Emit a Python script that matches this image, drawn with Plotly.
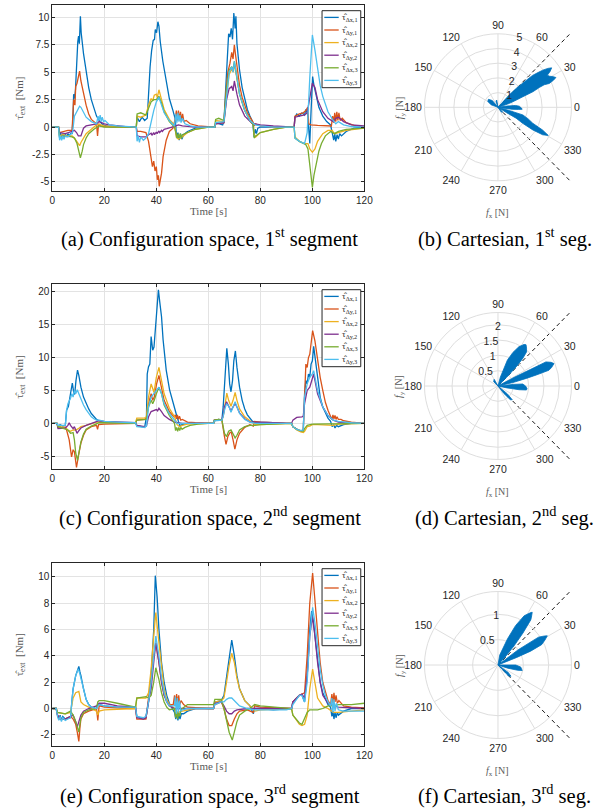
import math
import plotly.graph_objects as go

W, H = 605, 812

SERIES_COLORS = ['#0072BD', '#D95319', '#EDB120', '#7E2F8E', '#77AC30', '#4DBEEE']
SERIES_SUBS = ['x,1', 'y,1', 'x,2', 'y,2', 'x,3', 'y,3']

# ---------------- (a) configuration space, 1st segment: (time [s], torque [Nm]) ----------------
A_X1 = [(0,0),(2.4,0),(2.8,-1.0),(3.2,-0.5),(3.6,-1.1),(4,-0.6),(4.5,-1.0),(5,-0.6),(5.5,-0.9),(6,-0.6),(6.5,-0.8),(7,-0.6),(7.6,-0.6),(8.0,1.0),(8.2,3.0),(8.6,2.6),(8.9,3.4),(9.3,6.0),(9.5,5.6),(9.8,7.8),(10.1,8.3),(10.4,7.6),(10.8,10.1),(11.1,8.6),(12,6.7),(13,5.0),(14,3.6),(15,2.5),(16,1.7),(17,1.0),(18,0.6),(19,0.3),(20,0.15),(22,0.05),(25,0),(32.3,0),(32.6,0.9),(33.5,0.5),(34.5,0.9),(35.5,0.6),(36.5,0.8),(37.1,3.7),(37.6,5.5),(38.2,7.0),(38.8,7.9),(39.3,8.0),(39.6,8.9),(40.1,8.6),(40.6,9.6),(41.0,9.2),(41.5,7.8),(42.5,6.0),(43.8,4.0),(45,2.6),(46.4,1.5),(47.3,0.7),(47.8,-1.0),(48.3,-0.5),(48.8,-1.2),(49.3,-0.6),(49.8,-1.1),(50.5,-0.7),(52,-0.4),(55,-0.1),(58,0),(62.5,0),(62.8,0.4),(64,0.3),(65.5,0.2),(66,0.5),(66.5,2.5),(67.3,6.0),(67.8,8.5),(68.3,8.2),(68.8,9.0),(69.3,8.0),(69.8,10.4),(70.3,9.0),(70.6,10.1),(71,7.6),(72,5.2),(73,3.6),(74,2.5),(75,1.6),(76,1.0),(77,0.5),(77.6,-0.9),(78,-0.2),(78.5,-0.6),(79,-0.1),(80,0),(93,0),(93.3,0.9),(94,1.2),(95,1.0),(96,1.3),(97,1.1),(97.5,1.6),(98.2,1.2),(98.6,-0.6),(99,-1.5),(99.5,1.5),(100.1,4.6),(100.6,3.8),(101.5,2.8),(102.5,1.8),(104,1.0),(105.5,0.5),(107,0.2),(107.6,-0.6),(108.2,-1.2),(108.6,-0.6),(109,-1.3),(109.5,-0.7),(110,-1.1),(110.5,-0.6),(111.2,-0.8),(113,-0.4),(116,-0.1),(120,0)]
A_Y1 = [(0,0),(2.4,0),(2.8,-0.5),(4,-0.4),(6,-0.3),(7.6,-0.3),(8.2,2.5),(8.7,2.0),(9.0,3.7),(9.5,4.0),(9.9,4.6),(10.5,5.1),(11,4.2),(12,3.0),(13,2.0),(14,1.2),(15,0.7),(17,0.3),(17.4,-0.8),(17.8,0.3),(18.5,0.1),(20,0.05),(25,0),(32.3,0),(32.6,-0.4),(34,-0.4),(36,-0.5),(37,-1.3),(37.8,-2.7),(38.5,-3.6),(39,-3.1),(39.5,-4.0),(40,-3.6),(40.4,-4.8),(40.8,-4.4),(41.1,-5.4),(42,-4.2),(42.6,-2.7),(43.8,-1.2),(45,-0.4),(46.4,-0.1),(47.3,0.8),(47.7,1.5),(48.1,0.6),(48.5,1.5),(48.9,0.6),(49.3,1.4),(49.7,0.5),(50.1,1.2),(50.6,0.5),(51.5,0.6),(53,0.3),(56,0.1),(60,0),(62.5,0),(62.8,0.3),(66,0.4),(66.7,3.0),(67.5,5.0),(68.3,5.8),(69,6.8),(69.5,6.2),(70,7.5),(70.5,6.5),(71.2,5.0),(72,3.8),(73,2.7),(74,1.9),(75,1.3),(76,0.9),(77.3,0.4),(77.6,0.1),(78,0.3),(80,0.1),(85,0),(93,0),(93.3,1.0),(95,1.2),(96.5,1.3),(97.5,1.5),(98.2,1.8),(98.6,0.3),(99.5,0.2),(102,0.15),(105,0.1),(107.3,0.1),(107.8,1.0),(108.2,0.4),(108.6,1.3),(109,0.5),(109.4,1.4),(109.8,0.6),(110.2,1.3),(110.7,0.6),(111.5,0.8),(113,0.4),(116,0.15),(120,0)]
A_X2 = [(0,0),(2.4,0),(2.8,-0.8),(4,-0.7),(6,-0.8),(7.6,-0.8),(8.5,-1.0),(9.5,-1.4),(10.5,-1.7),(11,-1.4),(12,-1.0),(13,-0.6),(15,-0.2),(17,0.2),(18,0.25),(20,0.1),(25,0),(32.3,0),(32.6,1.0),(34,0.9),(36,1.1),(37,2.0),(38,2.6),(38.6,2.4),(39.2,2.9),(40,3.0),(40.4,2.7),(41,3.4),(42,2.5),(43,1.6),(45,0.7),(47,0.2),(47.7,-0.9),(48.5,-1.1),(49.5,-1.0),(50.5,-0.8),(52,-0.5),(55,-0.2),(60,0),(62.5,0),(62.8,0.6),(66,0.5),(67,3.0),(68,4.8),(69,5.3),(69.6,5.0),(70,5.8),(71,4.5),(72,3.0),(74,1.5),(76,0.6),(77.3,0.2),(77.6,-0.7),(78.2,-0.9),(80,-0.5),(85,-0.2),(90,0),(93,0),(93.3,-0.9),(95,-1.3),(97,-1.5),(98.3,-1.5),(99,-2.0),(100,-2.3),(101,-2.0),(102,-1.3),(104,-0.6),(106,-0.3),(107.6,-0.3),(108.5,-0.6),(110,-0.5),(113,-0.3),(120,-0.1)]
A_Y2 = [(0,0),(2.4,0),(2.8,-0.5),(5,-0.6),(7.6,-0.4),(8.5,-0.3),(9.3,-0.5),(10,-0.8),(11,-0.8),(11.5,-0.5),(12,-0.1),(13,0.1),(15,0.2),(17,0.3),(18,0.5),(19,0.4),(20,0.3),(22,0.2),(25,0.1),(30,0),(32.3,0),(32.6,-0.8),(34,-0.9),(36,-0.9),(37,-0.7),(38,-0.55),(38.3,-0.75),(39,-0.5),(39.3,-0.7),(40,-0.45),(40.3,-0.6),(41,-0.35),(41.3,-0.5),(42,-0.3),(42.3,-0.4),(43,-0.2),(44,-0.15),(45,-0.1),(46,0),(47.5,0.1),(48.5,0.2),(50,0.1),(55,0),(62.5,0),(62.8,0.3),(66,0.4),(67,2.5),(68,3.5),(69,3.7),(69.5,3.3),(70,4.2),(71,3.0),(72,2.0),(74,1.0),(76,0.5),(77,0.3),(78,0.3),(80,0.2),(85,0.1),(90,0),(93,0),(93.3,0.9),(95,1.0),(97,1.1),(98,1.3),(99,2.5),(100,4.0),(101,3.6),(102,2.5),(104,1.4),(106,0.8),(108,0.5),(109,0.8),(110,0.9),(112,0.5),(115,0.2),(120,0.1)]
A_X3 = [(0,0),(2.4,0),(2.8,-0.9),(5,-0.8),(7.6,-0.9),(8.5,-1.0),(9.5,-1.5),(10,-2.0),(10.8,-2.8),(11.5,-2.2),(12,-1.6),(13,-1.0),(14,-0.6),(16,-0.2),(18,0.1),(20,0),(32.3,0),(32.6,1.2),(34,1.3),(36,1.1),(37,1.8),(38,2.3),(39,2.5),(40,2.5),(41,2.8),(42,2.2),(43,1.4),(45,0.5),(47,0),(47.6,-0.7),(48.0,-1.0),(48.4,-0.6),(48.8,-1.0),(49.2,-0.6),(49.6,-1.0),(50,-0.7),(52,-0.5),(55,-0.2),(60,0),(62.5,0),(62.8,0.7),(64,0.8),(66,0.6),(67,3.5),(68,5.2),(69,5.5),(69.5,5.1),(70,6.0),(71,4.5),(72,3.0),(74,1.5),(76,0.6),(77.3,0.2),(77.6,-1.0),(78.2,-0.8),(80,-0.5),(85,-0.2),(90,0),(93,0),(93.3,-1.0),(95,-1.3),(96.5,-1.5),(97.5,-1.6),(98.3,-2.0),(99,-3.5),(100,-5.5),(100.6,-4.4),(101.5,-3.3),(102.5,-2.2),(103.5,-1.5),(105,-0.8),(107,-0.4),(108.5,-0.6),(110,-0.4),(113,-0.2),(120,-0.1)]
A_Y3 = [(0,0),(2.4,0),(2.8,-1.2),(3.2,-0.8),(3.6,-1.2),(4,-0.8),(4.5,-1.1),(5,-0.8),(6,-0.9),(7,-0.7),(7.8,-0.5),(8.5,1.0),(9.5,1.5),(10.5,1.9),(11,1.8),(12,1.3),(13,0.9),(15,0.5),(17,0.3),(17.6,1.0),(18,0.6),(18.4,1.1),(18.8,0.5),(19.2,0.9),(19.7,0.5),(20.3,0.6),(22,0.2),(25,0.1),(30,0),(32.3,0),(32.6,-1.3),(33,-0.8),(33.5,-1.4),(34,-0.9),(35,-1.2),(36,-1.0),(37,-0.6),(38,0.5),(39,1.5),(40,2.3),(41,2.7),(42,2.0),(43,1.3),(45,0.6),(47,0.1),(47.5,1.2),(47.9,0.4),(48.3,1.3),(48.7,0.5),(49.1,1.1),(49.5,0.4),(50,0.8),(51,0.3),(53,0.1),(56,0),(62.5,0),(62.8,0.4),(66,0.5),(67,3.0),(68,5.0),(69,5.5),(69.5,5.0),(70,6.0),(71,4.5),(72,3.0),(74,1.5),(76,0.6),(78,0.2),(80,0.1),(85,0),(93,0),(93.3,-1.0),(95,-1.3),(97,-1.5),(98,-0.5),(99,4.5),(100,8.4),(101,7.0),(102,5.2),(103,3.8),(104,2.8),(106,1.4),(108,0.6),(109,0.3),(110,0.5),(112,0.2),(115,0.05),(120,0)]

# ---------------- (c) configuration space, 2nd segment ----------------
C_X1 = [(0,0),(1.8,0),(2.2,-0.4),(3,-0.2),(4,-0.4),(5,-0.3),(5.5,2.0),(6.2,2.6),(7,4.5),(7.7,6.1),(8.2,4.8),(8.6,4.4),(9.1,6.5),(9.7,8.1),(10.2,7.3),(11,5.5),(12,4.0),(13,3.0),(14,2.2),(15,1.5),(16,1.0),(17,0.6),(18,0.4),(20,0.2),(25,0.1),(32,0.1),(32.5,-0.3),(34,-0.5),(35.5,-0.6),(36.2,1.0),(36.5,7.5),(37,8.6),(37.5,9.0),(38,13.2),(38.6,11.1),(39.1,11.6),(40.1,17.2),(40.8,20.3),(41.3,18.5),(42,16.2),(42.6,12.7),(43.8,8.1),(45.1,5.1),(46.4,3.0),(47.6,1.5),(48.5,0.3),(49,-0.3),(50,-0.2),(52,0),(62,0),(62.3,0.4),(64,0.6),(65.2,0.5),(65.7,2.5),(66.2,6.0),(66.6,9.5),(67.1,11.4),(67.7,9.0),(68.2,6.0),(68.7,4.8),(69.3,6.5),(69.8,9.5),(70.4,11.0),(71,8.5),(72,5.5),(73,3.5),(74,2.2),(75,1.3),(76,0.7),(77,0.3),(78,0.2),(80,0.2),(85,0.1),(90,0),(92,0),(92.5,-0.5),(94,-0.9),(95.5,-1.2),(96.5,-1.0),(97,4.5),(97.5,6.5),(98,6.0),(98.5,7.5),(99,7.0),(99.5,9.0),(100,9.5),(100.5,11.7),(101,10.0),(102,6.5),(103,4.0),(104,2.5),(105,1.5),(106,0.8),(107,0.3),(107.6,-0.5),(108.2,-0.2),(108.7,-0.7),(109.3,-0.3),(110,-0.5),(112,-0.2),(115,0),(120,0)]
C_Y1 = [(0,0),(1.8,0),(2.2,-0.6),(3,-0.5),(4,-0.7),(5,-0.6),(5.5,-1.0),(6.5,-2.5),(7.4,-5.1),(8,-4.0),(8.5,-4.3),(9.3,-6.7),(10,-5.0),(11,-3.0),(12,-1.8),(13,-1.0),(15,-0.5),(17,-0.3),(17.4,-0.9),(17.8,-0.2),(20,-0.1),(30,0),(32,0),(32.5,0.5),(35.5,0.6),(36.2,0.8),(37,3.0),(38,4.5),(38.6,3.5),(39.2,4.0),(40.1,6.0),(41,7.3),(42,5.5),(43,3.5),(45,1.8),(46.8,1.0),(47.3,1.3),(47.7,0.7),(48.1,1.3),(48.5,0.6),(48.9,1.1),(49.4,0.5),(50,0.6),(52,0.2),(55,0.1),(60,0),(62,0),(62.3,0.4),(64,0.6),(65.2,0.5),(65.7,-1.0),(66.2,-2.0),(66.8,-3.2),(67.5,-2.0),(68.3,-1.4),(68.8,-1.3),(69.5,-2.5),(70.2,-3.9),(71,-2.5),(72,-1.5),(74,-0.6),(76,-0.2),(77.3,-0.4),(77.7,0.3),(80,0.2),(85,0.1),(90,0),(92,0),(92.5,-0.5),(94,-0.9),(95.5,-1.2),(96.5,-1.0),(97,6.0),(97.5,9.0),(98,8.5),(98.5,10.0),(99,10.5),(99.5,12.0),(100.1,14.1),(101,12.5),(102,9.5),(103,7.0),(104,5.0),(105,3.2),(106,2.0),(107,1.2),(107.5,0.6),(107.9,1.3),(108.3,0.7),(108.7,1.2),(109.1,0.6),(109.5,1.0),(110,0.6),(111,0.6),(112,0.4),(115,0.2),(120,0)]
C_X2 = [(0,0),(1.8,0),(2.2,-0.5),(5,-0.6),(6,-1.0),(7,-1.2),(8,-1.0),(9,-1.0),(10,-0.8),(11,-0.5),(13,-0.3),(15,0),(17,0.2),(20,0.2),(25,0.1),(32,0.1),(32.5,0.8),(35.5,0.8),(36.2,1.0),(37,4.0),(38,6.0),(38.6,5.3),(39.1,4.7),(40,7.0),(41,8.5),(42,6.5),(43,4.5),(45,2.3),(47,1.0),(48,-0.2),(49,-0.5),(50,-0.3),(52,-0.1),(60,0),(62,0),(62.3,0.5),(64,0.6),(65.2,0.6),(65.7,1.0),(66.2,2.5),(67.1,4.6),(67.8,3.5),(68.7,2.6),(69.5,3.5),(70.3,4.7),(71,3.5),(72,2.2),(74,1.0),(76,0.4),(77,0),(78,-0.2),(80,-0.2),(85,-0.1),(90,0),(92,0),(92.5,-0.5),(94,-1.0),(95.5,-1.3),(96.5,-1.4),(97,-1.2),(98,-0.5),(99,-0.4),(100,-0.2),(102,-0.2),(105,-0.3),(107,-0.3),(108,-0.3),(110,-0.1),(115,0),(120,0)]
C_Y2 = [(0,0),(1.8,0),(2.2,-0.8),(4,-0.8),(5,-0.7),(6,-0.3),(6.5,0.1),(7,-0.3),(8,-0.8),(8.5,-0.5),(9,-1.0),(9.5,-1.5),(10,-1.2),(11,-0.7),(13,-0.3),(15,0),(17,0.3),(18,0.4),(20,0.3),(25,0.2),(32,0.1),(32.5,-0.3),(35.5,-0.5),(36.2,-0.4),(37,1.0),(38,1.8),(39,2.0),(40,2.1),(40.5,1.9),(41,2.3),(42,1.8),(43,1.2),(45,0.6),(47,0.2),(50,0),(62,0),(62.3,0.5),(64,0.6),(65.2,0.6),(65.7,1.2),(66.2,2.5),(67,3.3),(68,2.5),(68.7,1.9),(69.5,2.5),(70.3,3.0),(71,2.5),(72,1.6),(74,0.7),(76,0.2),(78,0.2),(80,0.2),(85,0.1),(90,0),(92,0),(92.5,0.5),(94,0.9),(96,1.0),(96.5,1.1),(97,3.0),(98,5.0),(99,5.5),(100,7.0),(100.5,7.5),(101,6.5),(102,4.5),(104,2.5),(106,1.2),(108,0.5),(110,0.2),(115,0),(120,0)]
C_X3 = [(0,0),(1.8,0),(2.2,-0.5),(5,-0.8),(6,-1.0),(7,-1.5),(8,-1.4),(8.5,-2.5),(9,-4.5),(9.7,-5.6),(10.3,-4.5),(11,-2.8),(12,-1.6),(13,-0.9),(15,-0.4),(17,-0.1),(18,0.1),(20,0.1),(30,0),(32,0),(32.5,0.5),(35.5,0.5),(36.2,0.6),(37,2.5),(38,3.5),(38.6,3.0),(39.2,3.5),(40,4.5),(41,5.5),(42,4.5),(43,2.8),(45,1.2),(47,0),(47.4,-1.1),(47.8,-0.6),(48.2,-1.2),(48.6,-0.6),(49,-1.1),(49.4,-0.6),(49.9,-0.9),(51,-0.6),(53,-0.3),(56,-0.1),(60,0),(62,0),(62.3,0.5),(64,0.6),(65.2,0.5),(65.7,-0.5),(66.2,-1.5),(67,-2.0),(67.8,-1.2),(68.7,-1.0),(69.5,-1.5),(70.3,-2.2),(71,-1.8),(72,-1.0),(74,-0.5),(76,-0.3),(78,-0.3),(80,-0.2),(85,-0.1),(90,0),(92,0),(92.5,-0.5),(94,-0.9),(95.5,-1.1),(96.5,-1.2),(97,-0.8),(98,-0.3),(100,-0.1),(105,-0.1),(110,0),(120,0)]
C_Y3 = [(0,0),(1.8,0),(2.2,-0.3),(5,-0.3),(5.5,2.0),(6,3.0),(7,3.8),(7.5,4.5),(8,4.0),(8.5,5.0),(9,4.5),(9.6,5.1),(10.2,4.5),(11,3.6),(12,2.8),(13,2.1),(14,1.5),(15,1.0),(16,0.7),(17,0.5),(18,0.5),(20,0.3),(25,0.2),(32,0.1),(32.5,-0.5),(35.5,-0.6),(36.2,-0.4),(37,2.5),(38,4.0),(39,4.5),(40,5.0),(41,5.5),(42,4.5),(43,3.0),(45,1.5),(47,0.4),(48,0),(50,0),(62,0),(62.3,0.4),(64,0.5),(65.2,0.5),(65.7,1.0),(66.2,2.0),(67,3.0),(68,2.5),(68.7,1.7),(69.5,2.5),(70.3,3.3),(71,2.5),(72,1.5),(74,0.6),(76,0.2),(78,0),(92,0),(92.5,-0.5),(94,-0.9),(95.5,-1.1),(96.5,-1.0),(97,4.0),(98,6.0),(99,7.0),(100,7.5),(100.5,8.0),(101,7.0),(102,5.0),(104,2.5),(106,1.2),(108,0.5),(110,0.3),(115,0.1),(120,0)]

# ---------------- (e) configuration space, 3rd segment ----------------
E_X1 = [(0,0),(1.5,0),(2,-0.5),(2.5,-0.8),(3,-0.5),(3.5,-0.9),(4,-0.6),(5,-0.8),(6,-0.7),(7,-0.7),(7.5,0.5),(8,1.5),(9,2.5),(9.6,2.8),(10.2,3.2),(10.6,2.8),(11,2.5),(12,1.5),(13,0.7),(14,0.3),(15,0.1),(17,0),(17.4,0.3),(18,0.3),(20,0.2),(25,0.1),(32,0.1),(32.5,-0.6),(35,-0.8),(36,-0.7),(37,0.5),(38,2.5),(39,6.0),(39.6,10.1),(40.3,8.5),(41,6.0),(42,3.5),(43,2.0),(44,1.0),(45,0.4),(46,0.1),(47,-0.3),(47.5,-0.8),(47.9,-0.3),(48.3,-0.9),(48.7,-0.4),(49.1,-0.8),(49.6,-0.4),(50.5,-0.4),(52,-0.2),(55,0),(62,0),(62.5,0.5),(65,0.6),(66,1.0),(67,2.5),(68,4.0),(69,5.2),(70,4.0),(71,2.5),(72,1.5),(74,0.6),(76,0.2),(77.3,-0.4),(77.8,0),(80,0),(85,-0.1),(90,0),(92,0),(92.5,0.5),(95,1.0),(96,1.0),(97,0.5),(98,2.5),(99,6.0),(99.7,7.4),(100.5,6.5),(101,5.5),(102,3.5),(103,2.0),(104,1.2),(105,0.7),(106,0.3),(107,0.1),(107.5,-0.6),(107.9,-0.2),(108.3,-0.8),(108.7,-0.3),(109.1,-0.7),(109.6,-0.3),(110,-0.5),(112,-0.2),(115,0),(120,0)]
E_Y1 = [(0,0),(1.5,0),(2,-0.5),(3,-0.8),(5,-0.8),(7,-0.6),(8,-0.8),(9,-1.2),(9.6,-1.8),(10.2,-2.5),(10.6,-1.5),(11,-0.8),(12,-0.4),(14,-0.2),(17,0),(17.5,-0.9),(18,0.2),(20,0.1),(30,0),(32,0),(32.5,-0.8),(36,-0.8),(37,0.8),(38,2.0),(39,4.0),(39.8,5.0),(41,3.5),(42,2.0),(43,1.0),(45,0.3),(46.5,0.3),(47,1.0),(47.4,0.3),(47.8,1.1),(48.2,0.3),(48.6,1.0),(49,0.3),(49.5,0.6),(50.5,0.3),(52,0.1),(60,0),(62,0),(62.5,0.3),(65,0.5),(66,0),(67,-0.8),(68,-1.3),(69,-1.3),(70,-0.8),(71,-0.4),(72,-0.2),(75,-0.1),(77.3,-0.3),(77.8,0.2),(80,0.1),(90,0),(92,0),(92.5,0.5),(95,1.0),(96,1.1),(97,1.2),(98,4.0),(99,8.0),(100.1,10.3),(101,8.0),(102,5.5),(103,3.5),(104,2.0),(105,1.2),(106,0.6),(107,0.3),(107.5,1.1),(107.9,0.4),(108.3,1.2),(108.7,0.5),(109.1,1.0),(109.6,0.4),(110.2,0.6),(112,0.2),(115,0.1),(120,0.05)]
E_X2 = [(0,0),(1.5,0),(2,-0.3),(5,-0.4),(7,-0.3),(7.5,0.2),(8,0.8),(9,1.2),(10.2,1.3),(11,0.5),(12,0.3),(14,0.1),(17,-0.2),(17.5,-0.5),(18,-0.2),(20,-0.1),(30,0),(32,0),(32.5,0.8),(36,0.8),(37,1.2),(38,3.0),(39,5.5),(39.8,7.3),(41,5.0),(42,3.0),(43,1.5),(44,0.7),(45,0.3),(47,0),(48,-0.3),(50,-0.2),(55,0),(62,0),(62.5,0.5),(65,0.6),(66,0.8),(67,2.0),(68,3.3),(69,4.2),(70,3.5),(71,2.3),(72,1.5),(74,0.6),(76,0.2),(78,-0.2),(80,-0.1),(90,0),(92,0),(92.5,-0.5),(95,-1.2),(96,-1.3),(97,-1.2),(98,-0.5),(99,1.5),(100.1,3.0),(101,2.0),(102,0.8),(104,0.2),(106,0),(108,-0.3),(110,-0.3),(115,-0.2),(120,-0.1)]
E_Y2 = [(0,0),(1.5,0),(2,-0.5),(3,-0.8),(5,-0.8),(7,-0.6),(8,-0.5),(9,-1.0),(9.6,-1.4),(10.2,-1.0),(11,-0.5),(12,-0.2),(14,0),(17,0.2),(18,0.4),(20,0.4),(25,0.2),(32,0.1),(32.5,-0.7),(35,-0.8),(36,-0.7),(37,0.5),(38,1.5),(39,3.5),(39.8,5.0),(41,3.5),(42,2.0),(43,1.0),(44,0.5),(45,0.2),(47,0),(50,0),(62,0),(62.5,0.4),(65,0.5),(66,0.2),(67,-0.2),(68,-0.4),(69,-0.4),(70,-0.2),(71,-0.1),(75,0),(92,0),(92.5,0.5),(95,1.0),(96,1.1),(97,0.8),(98,2.5),(99,5.5),(100,7.0),(101,5.5),(102,3.5),(103,2.0),(104,1.0),(106,0.4),(108,0.2),(110,0.1),(120,0)]
E_X3 = [(0,0),(1.5,0),(2,-0.3),(5,-0.4),(7,-0.2),(8,-0.5),(9,-1.0),(10.2,-1.8),(10.6,-1.2),(11,-0.7),(12,-0.3),(14,-0.1),(17,0),(17.5,0.5),(18,0.6),(20,0.6),(25,0.4),(30,0.2),(32,0.1),(32.5,0.8),(36,0.9),(37,0.8),(38,1.0),(39,2.0),(39.8,3.1),(41,2.2),(42,1.2),(43,0.5),(44,0.1),(45,-0.1),(47,0),(47.4,-0.7),(47.8,-0.2),(48.2,-0.8),(48.6,-0.3),(49,-0.6),(49.5,-0.1),(50,0),(52,0.3),(55,0.3),(60,0.3),(62,0.3),(62.5,0.7),(65,0.7),(66,0),(67,-0.8),(68,-1.8),(69.2,-2.4),(70,-1.8),(71,-1.0),(72,-0.5),(74,-0.2),(76,0),(77.8,0.3),(80,0.2),(85,0.1),(90,0.05),(92,0),(92.5,-0.5),(95,-1.1),(96,-1.2),(97,-0.8),(98,-0.3),(99,-0.1),(102,-0.1),(104,0),(106,0.2),(108,0.2),(110,0.3),(115,0.3),(120,0.4)]
E_Y3 = [(0,0),(1.5,0),(2,-0.6),(2.5,-0.9),(3,-0.6),(3.5,-1.0),(4,-0.7),(5,-0.9),(6,-0.8),(7,-0.7),(7.5,0.5),(8,1.5),(9,2.5),(10,3.0),(10.5,2.7),(11,2.3),(12,1.4),(13,0.7),(14,0.3),(15,0.1),(17,0),(17.5,0.2),(18,0.3),(20,0.2),(25,0.1),(30,0.1),(32,0.1),(32.5,-0.6),(35,-0.7),(36,-0.6),(37,0.5),(38,2.0),(39,4.0),(39.8,5.5),(41,4.0),(42,2.3),(43,1.2),(44,0.5),(45,0.2),(47,0.2),(47.3,0.9),(47.7,-0.4),(48.1,0.8),(48.5,-0.3),(48.9,0.6),(49.4,-0.2),(50,-0.1),(52,0),(62,0),(62.5,0.3),(65,0.5),(66,0.5),(67,0.7),(68,0.8),(69,0.8),(70,0.6),(71,0.4),(72,0.2),(75,0),(78,-0.1),(85,-0.1),(90,-0.1),(92,0),(92.5,0.3),(95,1.0),(96,1.0),(97,0.5),(98,2.0),(99,5.5),(100.1,7.7),(101,6.5),(102,4.5),(103,3.0),(104,1.8),(105,1.0),(106,0.5),(107,0.2),(107.5,0.8),(107.9,-0.3),(108.3,0.7),(108.7,-0.2),(109.2,0.4),(110,-0.1),(112,-0.2),(115,-0.2),(120,-0.2)]

# y-axis ranges / ticks
A_YRANGE = [-5.8, 11.1]
A_YTICKS = [-5, -2.5, 0, 2.5, 5, 7.5, 10]
A_YTEXT = ['-5', '-2.5', '0', '2.5', '5', '7.5', '10']
C_YRANGE = [-6.97, 21.12]
C_YTICKS = [-5, 0, 5, 10, 15, 20]
C_YTEXT = ['-5', '0', '5', '10', '15', '20']
E_YRANGE = [-2.85, 11.04]
E_YTICKS = [-2, 0, 2, 4, 6, 8, 10]
E_YTEXT = ['-2', '0', '2', '4', '6', '8', '10']
T_TICKS = [0, 20, 40, 60, 80, 100, 120]

# ---------------- Cartesian force lobes: (theta [deg], r [N]) ----------------
B_LOBE1 = [(47,0),(48,0.6),(47.5,1.2),(46,1.8),(44,2.5),(42.7,3.2),(41,3.6),(39.7,3.95),(38,4.3),(36.3,4.53),(34.5,4.3),(33,4.0),(31,4.1),(29,4.3),(27.2,4.43),(26,4.2),(24.9,3.85),(26,3.5),(25.6,3.12),(24,2.6),(23,1.84),(21,1.2),(19,0.83),(18,0.4),(20,0)]
B_LOBE2 = [(8,0),(8,0.6),(6,1.2),(3,1.45),(-2,1.6),(-4.7,1.65),(-6,1.4),(-8,1.0),(-9,0.5),(-9,0)]
B_LOBE3 = [(-14,0),(-16,0.8),(-17,1.77),(-21,2.2),(-24.6,2.6),(-27,3.4),(-29.2,3.92),(-31.6,3.57),(-33,2.82),(-33,2.0),(-31,1.44),(-32,0.7),(-34,0)]
B_LOBE4 = [(120,0),(130,0.6),(140,0.85),(150,0.8),(160,0.5),(165,0)]
B_LOBE5 = [(95,0),(100,0.5),(108,0.45),(112,0)]
B_LOBE6 = [(-40,0),(-45,0.45),(-55,0.4),(-58,0)]
D_LOBE1 = [(100,0),(75,0.3),(70,0.9),(66,1.2),(62,1.45),(58,1.6),(55.8,1.63),(53,1.55),(50,1.45),(48,1.2),(46.5,0.86),(45,0.4),(40,0)]
D_LOBE2 = [(32,0),(28,0.6),(27,1.2),(26.7,1.75),(24,1.9),(21.8,1.97),(19,1.85),(17.2,1.74),(16,1.3),(15,0.96),(13,0.5),(10,0)]
D_LOBE3 = [(8,0),(6,0.5),(4.6,0.81),(0,0.9),(-5,0.95),(-8,0.94),(-10,0.7),(-12,0.3),(-15,0)]
D_LOBE4 = [(-35,0),(-40,0.4),(-44,0.65),(-48,0.6),(-52,0.3),(-55,0)]
D_LOBE5 = [(110,0),(120,0.25),(135,0.2),(145,0)]
F_LOBE1 = [(85,0),(80,0.2),(70,0.55),(66,0.85),(62,1.1),(58,1.22),(57,1.24),(55,1.15),(54,1.1),(52,0.8),(50,0.5),(48,0.2),(45,0)]
F_LOBE2 = [(40,0),(37,0.5),(34.5,0.97),(32,1.08),(30.6,1.13),(28,1.05),(25,0.95),(23,0.7),(22,0.4),(20,0)]
F_LOBE3 = [(3,0),(0,0.35),(-5,0.45),(-12.8,0.49),(-15,0.4),(-18,0.2),(-20,0)]
F_LOBE4 = [(-30,0),(-36,0.25),(-41,0.34),(-46,0.3),(-50,0)]

B_RMAX, D_RMAX, F_RMAX = 5, 2.4, 1.45
B_RTICKS = [1, 2, 3, 4, 5]
D_RTICKS = [0.5, 1, 1.5, 2]
F_RTICKS = [0.5, 1]
THETA_TICKS = list(range(0, 360, 30))
DASH_ANGLES = [45, -45]

CAPTIONS_LEFT = ['(a) Configuration space, 1<sup>st</sup> segment',
                 '(c) Configuration space, 2<sup>nd</sup> segment',
                 '(e) Configuration space, 3<sup>rd</sup> segment']
CAPTIONS_RIGHT = ['(b) Cartesian, 1<sup>st</sup> seg.',
                  '(d) Cartesian, 2<sup>nd</sup> seg.',
                  '(f) Cartesian, 3<sup>rd</sup> seg.']

# ---------------- layout geometry (pixels) ----------------
PLOT_L, PLOT_R = 50.3, 368.7
LINE_BOXES = [(5.3, 190.7), (284.3, 469.3), (563.3, 746.0)]
POLAR_CX = 505
POLAR_CY = [107.3, 386.0, 665.0]
POLAR_RAD = 75
POLAR_RSIDE = ['clockwise', 'counterclockwise', 'counterclockwise']
CAPTION_BASE = [252, 531, 809]

def fx(p):
    return p / W

def fy(p):
    return 1 - p / H

TICK_FONT = dict(family='Liberation Sans, Arial, sans-serif', size=10, color='#262626')
POLAR_TICK_FONT = dict(family='Liberation Sans, Arial, sans-serif', size=10.5, color='#262626')
LABEL_FONT = dict(family='Liberation Serif, Times New Roman, serif', size=11, color='#5a5a5a')
CAPTION_FONT = dict(family='Liberation Serif, Times New Roman, serif', size=20.5, color='black')

fig = go.Figure()

line_panels = [
    ([A_X1, A_Y1, A_X2, A_Y2, A_X3, A_Y3], A_YRANGE, A_YTICKS, A_YTEXT),
    ([C_X1, C_Y1, C_X2, C_Y2, C_X3, C_Y3], C_YRANGE, C_YTICKS, C_YTEXT),
    ([E_X1, E_Y1, E_X2, E_Y2, E_X3, E_Y3], E_YRANGE, E_YTICKS, E_YTEXT),
]

layout_axes = {}
shapes = []
annotations = []

for k, (series, yr, yt, ytt) in enumerate(line_panels):
    suffix = '' if k == 0 else str(k + 1)
    for s, col in zip(series, SERIES_COLORS):
        fig.add_trace(go.Scatter(
            x=[p[0] for p in s], y=[p[1] for p in s], mode='lines',
            line=dict(color=col, width=1.3), xaxis='x' + suffix, yaxis='y' + suffix,
            showlegend=False, hoverinfo='skip'))
    top, bot = LINE_BOXES[k]
    common = dict(showline=True, linecolor='#262626', linewidth=1, mirror='ticks',
                  ticks='inside', ticklen=3, tickcolor='#262626', showgrid=True,
                  gridcolor='#e3e3e3', gridwidth=1, zeroline=False, tickfont=TICK_FONT)
    layout_axes['xaxis' + suffix] = dict(common, domain=[fx(PLOT_L), fx(PLOT_R)], range=[0, 120],
                                         tickvals=T_TICKS, ticktext=[str(t) for t in T_TICKS],
                                         anchor='y' + suffix)
    layout_axes['yaxis' + suffix] = dict(common, domain=[fy(bot), fy(top)], range=yr,
                                         tickvals=yt, ticktext=ytt, anchor='x' + suffix)
    annotations.append(dict(text='Time [s]', x=fx((PLOT_L + PLOT_R) / 2), y=fy(bot + 20),
                            xref='paper', yref='paper', showarrow=False, font=LABEL_FONT,
                            xanchor='center', yanchor='middle'))
    annotations.append(dict(text='\u03c4\u0302<sub>ext</sub>  [Nm]', x=fx(17), y=fy((top + bot) / 2),
                            xref='paper', yref='paper', showarrow=False, font=LABEL_FONT,
                            textangle=-90, xanchor='center', yanchor='middle'))
    # legend box
    lx0, lx1 = 325.5, 365.0
    ly0 = top + 5.4
    ly1 = ly0 + 77
    shapes.append(dict(type='rect', xref='paper', yref='paper', x0=fx(lx0), x1=fx(lx1),
                       y0=fy(ly1), y1=fy(ly0), line=dict(color='#262626', width=1),
                       fillcolor='white', layer='above'))
    for i, (col, sub) in enumerate(zip(SERIES_COLORS, SERIES_SUBS)):
        yy = ly0 + 6.7 + i * 12.6
        shapes.append(dict(type='line', xref='paper', yref='paper', x0=fx(327.8), x1=fx(342.5),
                           y0=fy(yy), y1=fy(yy), line=dict(color=col, width=1.3), layer='above'))
        annotations.append(dict(text='\u03c4\u0302<sub>\u0394' + sub + '</sub>', x=fx(343.5), y=fy(yy),
                                xref='paper', yref='paper', showarrow=False,
                                font=dict(family='Liberation Serif, serif', size=9, color='#262626'),
                                xanchor='left', yanchor='middle'))
    annotations.append(dict(text=CAPTIONS_LEFT[k], x=fx(211), y=fy(CAPTION_BASE[k]), xref='paper',
                            yref='paper', showarrow=False, xanchor='center', yanchor='bottom',
                            font=CAPTION_FONT, borderpad=0))

polar_panels = [
    ([B_LOBE1, B_LOBE2, B_LOBE3, B_LOBE4, B_LOBE5, B_LOBE6], B_RMAX, B_RTICKS),
    ([D_LOBE1, D_LOBE2, D_LOBE3, D_LOBE4, D_LOBE5], D_RMAX, D_RTICKS),
    ([F_LOBE1, F_LOBE2, F_LOBE3, F_LOBE4], F_RMAX, F_RTICKS),
]

for k, (lobes, rmax, rticks) in enumerate(polar_panels):
    pname = 'polar' if k == 0 else 'polar%d' % (k + 1)
    cy = POLAR_CY[k]
    dom_x = [fx(POLAR_CX - POLAR_RAD), fx(POLAR_CX + POLAR_RAD)]
    dom_y = [fy(cy + POLAR_RAD), fy(cy - POLAR_RAD)]
    aux = str(k + 4)
    for ang in DASH_ANGLES:
        reach = rmax * math.sqrt(2)
        fig.add_trace(go.Scatter(
            x=[0, reach * math.cos(math.radians(ang))], y=[0, reach * math.sin(math.radians(ang))],
            mode='lines', line=dict(color='#1a1a1a', width=1, dash='4px,3px'),
            xaxis='x' + aux, yaxis='y' + aux, showlegend=False, hoverinfo='skip'))
    layout_axes['xaxis' + aux] = dict(domain=dom_x, range=[-rmax, rmax], visible=False,
                                      anchor='y' + aux, fixedrange=True)
    layout_axes['yaxis' + aux] = dict(domain=dom_y, range=[-rmax, rmax], visible=False,
                                      anchor='x' + aux, fixedrange=True)
    for lobe in lobes:
        fig.add_trace(go.Scatterpolar(
            theta=[p[0] for p in lobe], r=[p[1] for p in lobe], mode='lines', fill='toself',
            fillcolor='#0072BD', line=dict(color='#0072BD', width=0.8), subplot=pname,
            showlegend=False, hoverinfo='skip'))
    layout_axes[pname] = dict(
        domain=dict(x=dom_x, y=dom_y), bgcolor='rgba(0,0,0,0)',
        radialaxis=dict(range=[0, rmax], tickvals=rticks, ticktext=[('%g' % v) for v in rticks],
                        angle=80, tickangle=80, side=POLAR_RSIDE[k], showline=False, ticks='',
                        gridcolor='#dedede', gridwidth=1, tickfont=POLAR_TICK_FONT),
        angularaxis=dict(tickvals=THETA_TICKS, ticktext=[str(t) for t in THETA_TICKS],
                         direction='counterclockwise', rotation=0, gridcolor='#dedede',
                         linecolor='#dedede', showline=True, linewidth=1, ticks='',
                         tickfont=POLAR_TICK_FONT))
    annotations.append(dict(text='<i>f</i><sub>y</sub> [N]', x=fx(405), y=fy(cy), xref='paper',
                            yref='paper', showarrow=False, textangle=-90, font=dict(LABEL_FONT, size=10),
                            xanchor='center', yanchor='middle'))
    annotations.append(dict(text='<i>f</i><sub>x</sub> [N]', x=fx(POLAR_CX), y=fy(cy + 106),
                            xref='paper', yref='paper', showarrow=False, font=dict(LABEL_FONT, size=10),
                            xanchor='center', yanchor='middle'))
    annotations.append(dict(text=CAPTIONS_RIGHT[k], x=fx(512), y=fy(CAPTION_BASE[k]), xref='paper',
                            yref='paper', showarrow=False, xanchor='center', yanchor='bottom',
                            font=CAPTION_FONT, borderpad=0))

fig.update_layout(
    width=W, height=H, margin=dict(l=0, r=0, t=0, b=0),
    paper_bgcolor='white', plot_bgcolor='white', showlegend=False,
    shapes=shapes, annotations=annotations, **layout_axes)

fig.write_html('out.html', config={'displayModeBar': False},
               post_script="document.body.style.margin='0px';")
